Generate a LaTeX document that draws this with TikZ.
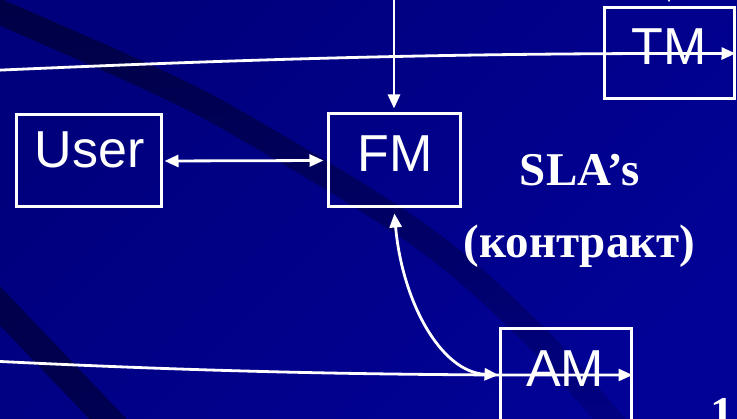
\documentclass[tikz,border=0pt]{standalone}
\usepackage{fontspec}
\setmainfont{Liberation Serif}
\setsansfont{Liberation Sans}
\usetikzlibrary{arrows.meta,fadings}

\definecolor{bgTL}{RGB}{0,0,124}
\definecolor{bgBR}{RGB}{2,2,150}
\tikzfading[name=bandfade, top color=transparent!56, bottom color=transparent!90]

\begin{document}
\begin{tikzpicture}[x=1pt, y=-1pt,
  box/.style={draw=white, line width=3pt, inner sep=0pt},
  lbl/.style={font=\sffamily\fontsize{52}{52}\selectfont, text=white, inner sep=0pt},
  serifbold/.style={font=\rmfamily\bfseries\fontsize{47}{47}\selectfont, text=white, inner sep=0pt},
  wire/.style={draw=white, line width=2.8pt},
  tip/.style={-{Triangle[length=14pt,width=12pt]}},
  twotips/.style={{Triangle[length=14pt,width=12pt]}-{Triangle[length=14pt,width=12pt]}}]

\useasboundingbox (0,0) rectangle (737,419);
\clip (0,0) rectangle (737,419);

% slide background with its darker diagonal bands
\shade[shading=axis, top color=bgTL, bottom color=bgBR, shading angle=45] (-5,-5) rectangle (742,424);
\draw[black, line width=25pt, path fading=bandfade]
  plot[smooth, tension=0.6] coordinates {(-30,-1) (150,78) (250,130) (420,235) (530,330) (610,419) (630,445)};
\draw[black, opacity=0.4, line width=27pt] (-40,264) -- (130,442);

% boxes
\node[box, minimum width=145pt, minimum height=92pt] (user) at (88.5,161) {};
\node[box, minimum width=132pt, minimum height=93pt] (fm) at (394,160.5) {};
\node[box, minimum width=130pt, minimum height=91pt] (tm) at (669,53.5) {};
\node[box, minimum width=131pt, minimum height=92pt] (am) at (565.5,375) {};

% box captions
\node[lbl, anchor=base] (userlbl) at (89.5,168) {User};
\node[lbl, anchor=base] (fmlbl) at (395,172) {FM};
\node[lbl, anchor=base] (tmlbl) at (669,65) {TM};
\node[lbl, anchor=base] (amlbl) at (565,387) {AM};

% side text
\node[serifbold, anchor=base] (sla) at (580,186) {SLA’s};
\node[serifbold, anchor=base] (contract) at (579.5,258) {(контракт)};
\node[serifbold, anchor=base west] (pagenum) at (710,430) {1};

% loose ends of the incoming connectors
\coordinate (tmsrc) at (669,-40);
\coordinate (fmsrc) at (394,-40);
\coordinate (tmin) at (-20,71);
\coordinate (amin) at (-20,360.5);

% connectors
\draw[wire, tip, shorten >=4pt] (tmsrc) -- (tm.north);
\draw[wire, tip, shorten >=4pt] (fmsrc) -- (fm.north);
\draw[wire, tip] (tmin) .. controls (250,59) and (450,53) .. (tm.east);
\draw[wire, twotips, shorten <=2pt, shorten >=3pt] (user.east) -- (fm.west);
\draw[wire, twotips, shorten <=5pt] (fm.south) .. controls (402,300) and (440,372) .. (am.west);
\draw[wire, tip] (amin) .. controls (150,369) and (300,374) .. (am.west) -- (am.east);
\end{tikzpicture}
\end{document}
